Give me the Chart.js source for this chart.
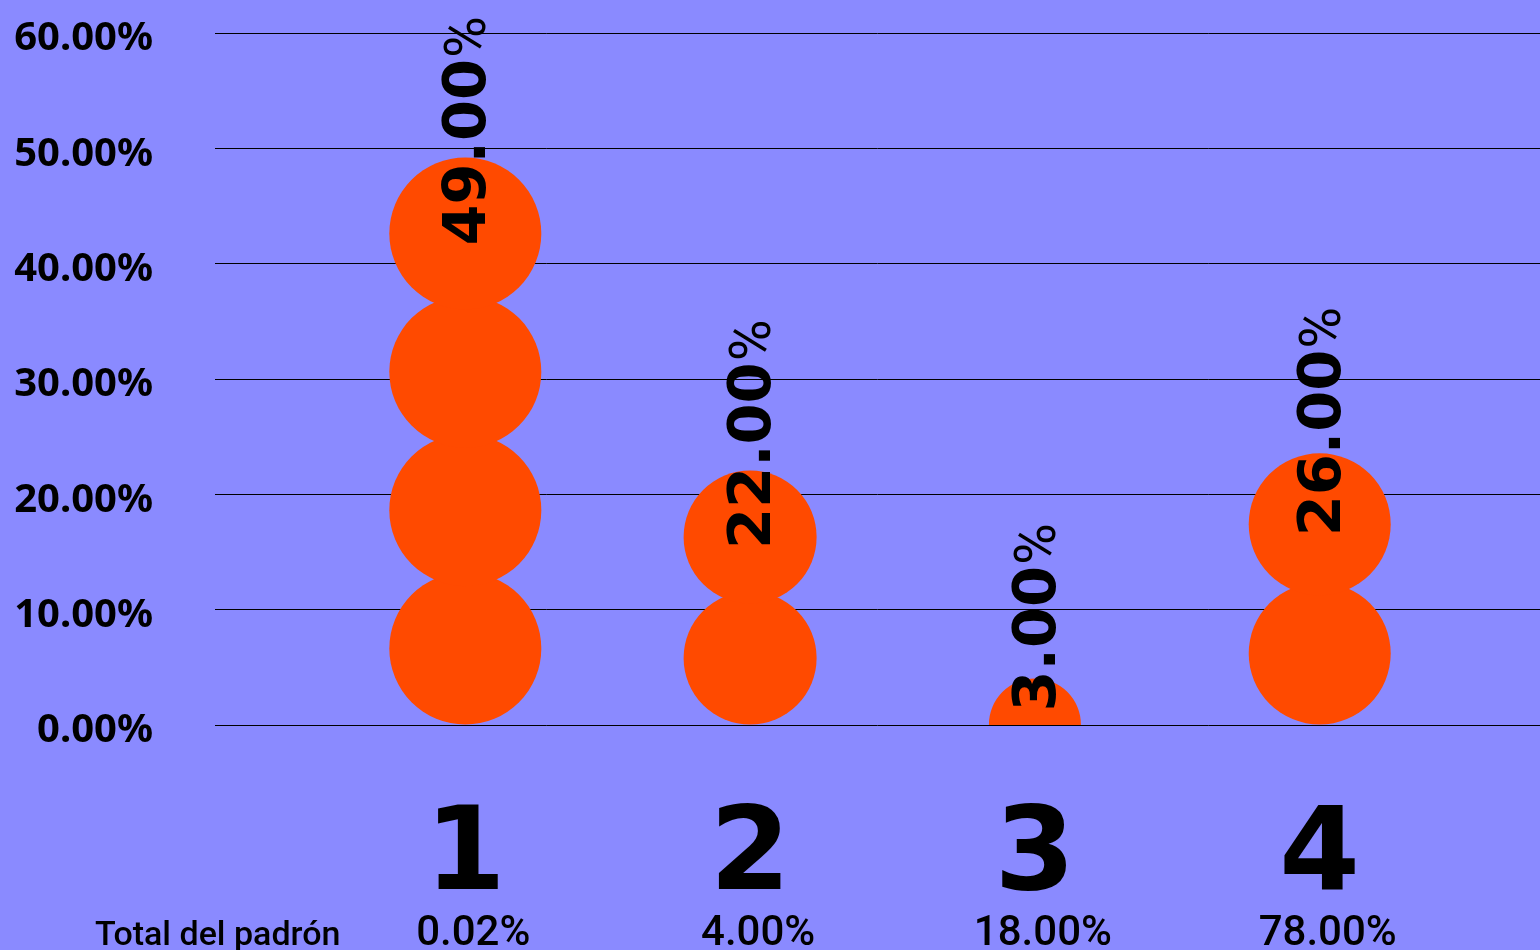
<!DOCTYPE html>
<html>
<head>
<meta charset="utf-8">
<script src="https://cdn.jsdelivr.net/npm/chart.js@4.4.1/dist/chart.umd.min.js"></script>
<style>
  html, body { margin: 0; padding: 0; background: #8A8AFF; }
  #wrap { width: 1540px; height: 950px; position: relative; }
</style>
</head>
<body>
<div id="wrap"><canvas id="c"></canvas></div>
<script>
// ---- data ----
const categories = [1, 2, 3, 4];
const categoryLabels = ['1', '2', '3', '4'];
const shareLabels = ['0.02%', '4.00%', '18.00%', '78.00%'];
const values = [49, 22, 3, 26];
const yTicks = [0, 10, 20, 30, 40, 50, 60];
const footLabel = 'Total del padrón';

// ---- styles ----
const BG = '#8A8AFF';
const DOT = '#FF4A00';
const circleRadius = [76, 66.5, 46, 71];

const bgPlugin = {
  id: 'bg',
  beforeDraw(chart) {
    const ctx = chart.ctx;
    ctx.save();
    ctx.fillStyle = BG;
    ctx.fillRect(0, 0, chart.width, chart.height);
    ctx.restore();
  }
};

function stackCenters(el, r) {
  const d = 2 * r;
  const h = el.base - el.y;
  const n = Math.round(h / d);
  const centers = [];
  if (n < 1) { centers.push(el.base); return centers; }
  const step = 0.91 * d;
  for (let k = 0; k < n; k++) centers.push(el.base - r - k * step);
  return centers;
}

const dotsPlugin = {
  id: 'dots',
  afterDatasetsDraw(chart) {
    const ctx = chart.ctx;
    const meta = chart.getDatasetMeta(0);
    const area = chart.chartArea;
    ctx.save();
    ctx.beginPath();
    ctx.rect(0, 0, chart.width, area.bottom);
    ctx.clip();
    meta.data.forEach((el, i) => {
      const r = circleRadius[i];
      ctx.fillStyle = DOT;
      stackCenters(el, r).forEach(cy => {
        ctx.beginPath();
        ctx.arc(el.x, cy, r, 0, Math.PI * 2);
        ctx.fill();
      });
    });
    ctx.restore();

    // value labels
    meta.data.forEach((el, i) => {
      const r = circleRadius[i];
      const centers = stackCenters(el, r);
      const topC = centers[centers.length - 1];
      const startY = Math.min(topC + 12, el.base - 13);
      const num = values[i].toFixed(2);
      ctx.save();
      ctx.translate(el.x + 20, startY);
      ctx.rotate(-Math.PI / 2);
      ctx.fillStyle = '#000';
      ctx.textAlign = 'left';
      ctx.textBaseline = 'alphabetic';
      ctx.font = 'bold 59px "DejaVu Sans"';
      ctx.fillText(num, 0, 0);
      const w = ctx.measureText(num).width;
      ctx.font = '400 57px Roboto';
      ctx.fillText('%', w + 1, 0);
      ctx.restore();
    });

    // footer label
    ctx.save();
    ctx.fillStyle = '#000';
    ctx.font = '500 34px Roboto';
    ctx.textAlign = 'left';
    ctx.textBaseline = 'alphabetic';
    ctx.fillText(footLabel, 95, 945);
    ctx.restore();
  }
};

const XMIN = 0.1211, XMAX = 4.7735;
const zeroPad = s => { s.paddingTop = 0; s.paddingBottom = 0; s.paddingLeft = 0; s.paddingRight = 0; };

new Chart(document.getElementById('c'), {
  type: 'bar',
  data: {
    datasets: [{
      data: categories.map((c, i) => ({ x: c, y: values[i] })),
      backgroundColor: 'rgba(0,0,0,0)',
      borderWidth: 0
    }]
  },
  options: {
    responsive: true,
    maintainAspectRatio: false,
    animation: false,
    layout: { padding: { top: 33, left: 0, right: 0, bottom: 0 } },
    plugins: { legend: { display: false }, tooltip: { enabled: false } },
    scales: {
      x: {
        type: 'linear', min: XMIN, max: XMAX, position: 'bottom', weight: 0, offset: false,
        grid: { display: false, drawTicks: false, offset: false }, border: { display: false },
        afterBuildTicks: s => { s.ticks = categories.map(v => ({ value: v })); },
        afterFit: s => { s.height = 179; zeroPad(s); },
        ticks: {
          autoSkip: false, maxRotation: 0, padding: 76, color: '#000',
          font: { family: 'DejaVu Sans', weight: 'bold', size: 116, lineHeight: 1 },
          callback: v => { const k = categories.indexOf(v); return k >= 0 ? categoryLabels[k] : ''; }
        }
      },
      x2: {
        type: 'linear', min: XMIN, max: XMAX, position: 'bottom', weight: 1, offset: false,
        grid: { display: false, drawTicks: false, offset: false }, border: { display: false },
        afterBuildTicks: s => { s.ticks = categories.map(v => ({ value: v })); },
        afterFit: s => { s.height = 46; zeroPad(s); },
        ticks: {
          autoSkip: false, maxRotation: 0, padding: 9, color: '#000', labelOffset: 8,
          font: { family: 'Roboto', weight: '500', size: 42, lineHeight: 1 },
          callback: v => { const k = categories.indexOf(v); return k >= 0 ? shareLabels[k] : ''; }
        }
      },
      y: {
        min: 0, max: 60,
        grid: { color: '#000', lineWidth: 1, drawTicks: false }, border: { display: false },
        afterBuildTicks: s => { s.ticks = yTicks.map(v => ({ value: v })); },
        afterFit: s => { s.width = 215; zeroPad(s); },
        ticks: {
          padding: 62, color: '#000', labelOffset: 6,
          font: { family: 'Noto Sans', weight: 'bold', size: 40 },
          callback: v => v.toFixed(2) + '%'
        }
      }
    }
  },
  plugins: [bgPlugin, dotsPlugin]
});
</script>
</body>
</html>
